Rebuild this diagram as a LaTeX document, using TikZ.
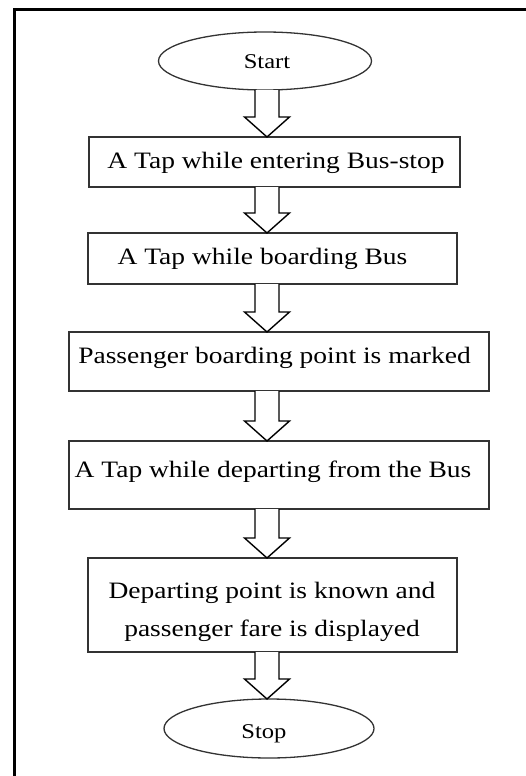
\documentclass[tikz,border=0pt]{standalone}
\usepackage{fontspec}
\setmainfont[FakeStretch=1.17]{Liberation Serif}
\usetikzlibrary{shapes.geometric,calc}
\newcommand\blkarr[2]{\draw[blockarrow] let \p1=(#1.south), \p2=(#2.north) in
  (255pt,\y1) -- (255pt,\y2+20pt) -- (244.5pt,\y2+20pt) -- (267pt,\y2) --
  (289.5pt,\y2+20pt) -- (279pt,\y2+20pt) -- (279pt,\y1);}
\begin{document}
\begin{tikzpicture}[x=1pt,y=-1pt,
  box/.style={draw=black!80, line width=1.3pt, inner sep=0pt, outer sep=0pt, rectangle},
  term/.style={ellipse, draw=black!80, line width=1.3pt, inner sep=0pt, outer sep=0pt},
  lbl/.style={anchor=base, inner sep=0pt, font=\fontsize{23.5}{38}\selectfont},
  tlbl/.style={anchor=base, inner sep=0pt, font=\fontsize{21}{25}\selectfont},
  blockarrow/.style={draw=black, line width=1.4pt, fill=white, line join=miter}]
\useasboundingbox (0,0) rectangle (526,776);
\fill[white] (0,0) rectangle (526,776);
% frame
\draw[line width=2.8pt] (14.3,776) -- (14.3,9.3) -- (526,9.3);
% nodes
\node[term, minimum width=213, minimum height=58] (start) at (265,61) {};
\node[tlbl] (tstart) at (267,68) {Start};
\node[box, minimum width=371, minimum height=50] (b1) at (274.5,162) {};
\node[lbl] (t1) at (276,168) {A Tap while entering Bus-stop};
\node[box, minimum width=369, minimum height=51] (b2) at (272.5,258.5) {};
\node[lbl] (t2) at (262.5,264) {A Tap while boarding Bus};
\node[box, minimum width=420, minimum height=59] (b3) at (279,361.5) {};
\node[lbl] (t3) at (274.5,363) {Passenger boarding point is marked};
\node[box, minimum width=420, minimum height=68] (b4) at (279,475) {};
\node[lbl] (t4) at (273,477) {A Tap while departing from the Bus};
\node[box, minimum width=369, minimum height=94] (b5) at (272.5,605) {};
\node[lbl] (t5a) at (272,598) {Departing point is known and};
\node[lbl] (t5b) at (272,636) {passenger fare is displayed};
\node[term, minimum width=210, minimum height=59] (stop) at (269,728.5) {};
\node[tlbl] (tstop) at (264,738) {Stop};
% connectors
\blkarr{start}{b1}
\blkarr{b1}{b2}
\blkarr{b2}{b3}
\blkarr{b3}{b4}
\blkarr{b4}{b5}
\blkarr{b5}{stop}
\end{tikzpicture}
\end{document}
